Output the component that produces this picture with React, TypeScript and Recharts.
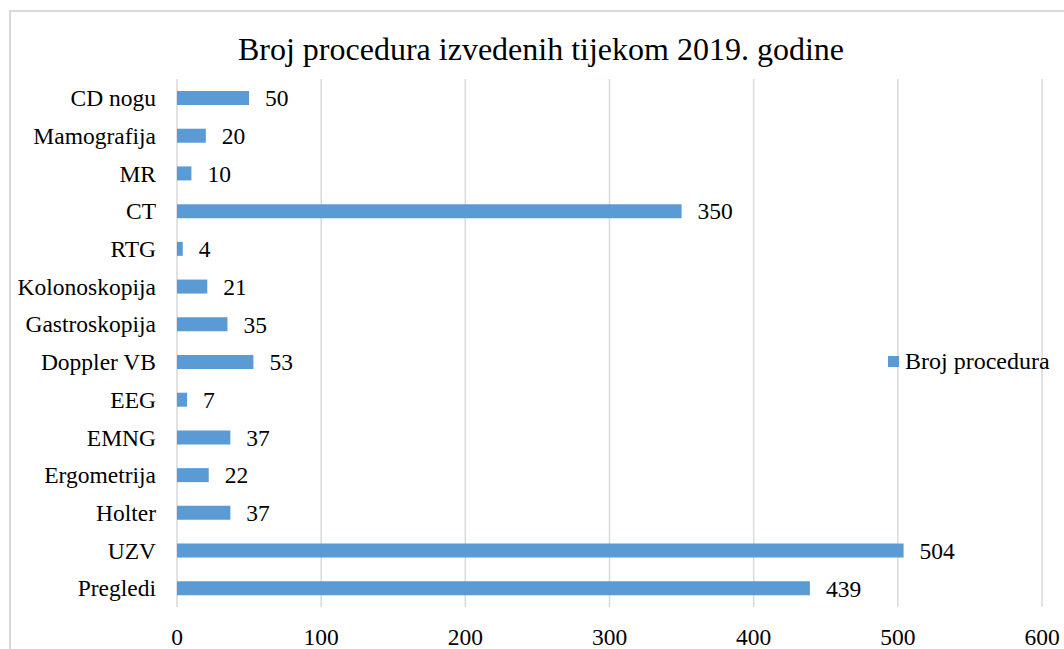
import { BarChart, Bar, XAxis, YAxis, CartesianGrid, Legend, LabelList } from "recharts";

const categories = [
  "CD nogu",
  "Mamografija",
  "MR",
  "CT",
  "RTG",
  "Kolonoskopija",
  "Gastroskopija",
  "Doppler VB",
  "EEG",
  "EMNG",
  "Ergometrija",
  "Holter",
  "UZV",
  "Pregledi",
];
const values = [50, 20, 10, 350, 4, 21, 35, 53, 7, 37, 22, 37, 504, 439];
const xTicks = [0, 100, 200, 300, 400, 500, 600];
const seriesName = "Broj procedura";
const title = "Broj procedura izvedenih tijekom 2019. godine";

const data = categories.map((name, i) => ({ name, value: values[i] }));

const font = '"Liberation Serif", "Times New Roman", serif';

const LegendContent = ({ payload }: any) => (
  <div style={{ display: "flex", alignItems: "center", fontFamily: font, fontSize: 24, color: "#000", whiteSpace: "nowrap" }}>
    {(payload || []).map((p: any) => (
      <span key={p.value} style={{ display: "flex", alignItems: "center" }}>
        <span style={{ display: "inline-block", width: 11, height: 11, background: "#5B9BD5", marginRight: 6 }} />
        {p.value}
      </span>
    ))}
  </div>
);

export default function App() {
  return (
    <div style={{ position: "absolute", left: 0, top: 0, width: 1064, height: 649, overflow: "hidden", background: "#fff" }}>
      <div
        style={{
          position: "absolute",
          left: 9,
          top: 10,
          width: 1100,
          height: 700,
          border: "2px solid #d9d9d9",
          boxSizing: "border-box",
        }}
      />
      <div
        style={{
          position: "absolute",
          left: 0,
          top: 33,
          width: 1082,
          textAlign: "center",
          fontFamily: font,
          fontSize: 32,
          lineHeight: "32px",
          color: "#000",
          whiteSpace: "nowrap",
        }}
      >
        {title}
      </div>
      <div style={{ position: "absolute", left: 0, top: 0 }}>
        <BarChart
          width={1064}
          height={649}
          data={data}
          layout="vertical"
          margin={{ top: 79, right: 22, bottom: 0, left: 0 }}
        >
          <CartesianGrid horizontal={false} stroke="#d9d9d9" strokeWidth={1.5} />
          <XAxis
            type="number"
            domain={[0, 600]}
            ticks={xTicks}
            axisLine={false}
            tickLine={false}
            tickSize={0}
            tickMargin={21}
            height={42}
            tick={{ fontSize: 23.5, fill: "#000", fontFamily: font }}
          />
          <YAxis
            type="category"
            dataKey="name"
            width={177}
            axisLine={false}
            tickLine={false}
            tickSize={0}
            tickMargin={21}
            interval={0}
            tick={{ fontSize: 23.5, fill: "#000", fontFamily: font }}
          />
          <Legend
            align="center"
            verticalAlign="middle"
            content={<LegendContent />}
            wrapperStyle={{ left: 888, top: 348, width: 176, height: 28 }}
          />
          <Bar dataKey="value" name={seriesName} fill="#5B9BD5" barSize={14} isAnimationActive={false}>
            <LabelList
              dataKey="value"
              position="right"
              offset={16}
              style={{ fontSize: 23.5, fill: "#000", fontFamily: font }}
            />
          </Bar>
        </BarChart>
      </div>
    </div>
  );
}
